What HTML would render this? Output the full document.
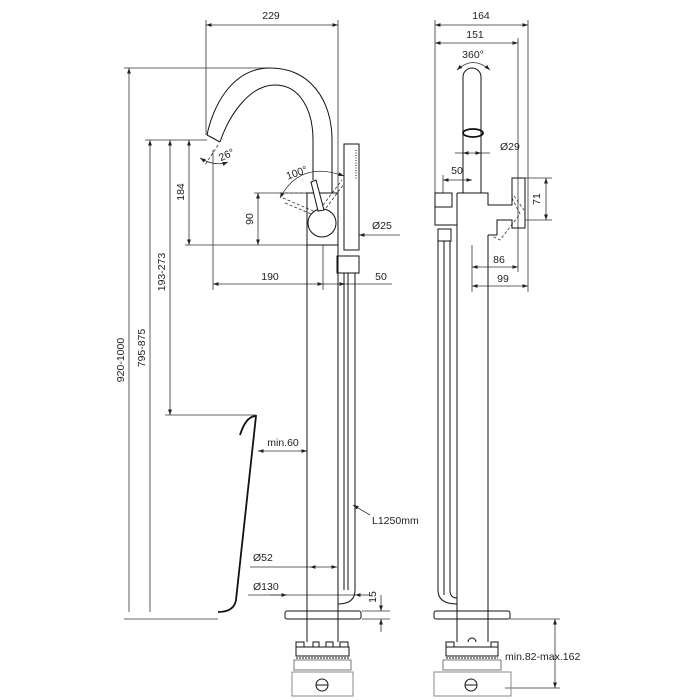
<!DOCTYPE html>
<html><head><style>
html,body{margin:0;padding:0;background:#fff;}
svg{display:block;}
text{font-family:"Liberation Sans",sans-serif;font-size:10.5px;fill:#222;}
</style></head><body>
<svg width="700" height="700" viewBox="0 0 700 700" xmlns="http://www.w3.org/2000/svg">
<defs>
<marker id="a" viewBox="0 0 10 10" refX="10" refY="5" markerWidth="7" markerHeight="7" orient="auto-start-reverse"><path d="M0,1.5 L10,5 L0,8.5z" fill="#222"/></marker>
</defs>
<rect width="700" height="700" fill="#fff"/>
<g stroke="#333" stroke-width="0.8" fill="none">
<line x1="206" y1="20" x2="206" y2="135"/>
<line x1="338" y1="20" x2="338" y2="193"/>
<line x1="124" y1="68" x2="270" y2="68"/>
<line x1="145" y1="140" x2="207" y2="140"/>
<line x1="185" y1="245" x2="308" y2="245"/>
<line x1="254" y1="193" x2="308" y2="193"/>
<line x1="213" y1="150" x2="213" y2="290"/>
<line x1="323" y1="245" x2="323" y2="290"/>
<line x1="165" y1="415" x2="256" y2="415"/>
<line x1="124" y1="619" x2="218" y2="619"/>
<line x1="362" y1="619" x2="390" y2="619"/>
<line x1="362" y1="611" x2="390" y2="611"/>
<line x1="206" y1="25" x2="338" y2="25" marker-start="url(#a)" marker-end="url(#a)"/>
<line x1="129" y1="612" x2="129" y2="68" marker-end="url(#a)"/>
<line x1="150" y1="612" x2="150" y2="140" marker-end="url(#a)"/>
<line x1="170" y1="140" x2="170" y2="415" marker-start="url(#a)" marker-end="url(#a)"/>
<line x1="189" y1="140" x2="189" y2="245" marker-start="url(#a)" marker-end="url(#a)"/>
<line x1="258" y1="193" x2="258" y2="245" marker-start="url(#a)" marker-end="url(#a)"/>
<line x1="213" y1="284" x2="323" y2="284" marker-start="url(#a)" marker-end="url(#a)"/>
<line x1="323" y1="284" x2="345" y2="284" marker-end="url(#a)"/>
<line x1="345" y1="284" x2="392" y2="284"/>
<line x1="400" y1="235" x2="359" y2="235" marker-end="url(#a)"/>
<line x1="258" y1="451" x2="307" y2="451" marker-start="url(#a)" marker-end="url(#a)"/>
<line x1="370" y1="515" x2="353" y2="505" marker-end="url(#a)"/>
<line x1="250" y1="567" x2="310" y2="567"/>
<line x1="310" y1="567" x2="337" y2="567" marker-start="url(#a)" marker-end="url(#a)"/>
<line x1="248" y1="595" x2="355" y2="595"/>
<line x1="270" y1="595" x2="287" y2="595" marker-end="url(#a)"/>
<line x1="370" y1="595" x2="355" y2="595" marker-end="url(#a)"/>
<line x1="381" y1="595" x2="381" y2="611" marker-end="url(#a)"/>
<line x1="381" y1="632" x2="381" y2="619" marker-end="url(#a)"/>
<path d="M200,158 Q215,167 228,162" marker-start="url(#a)" marker-end="url(#a)"/>
<line x1="218" y1="145" x2="205" y2="165" stroke-dasharray="3,2"/>
<path d="M280,198 Q300,160 344,176" marker-start="url(#a)" marker-end="url(#a)"/>
<line x1="280" y1="193" x2="308" y2="193" stroke-dasharray="3,2"/>
<path d="M283,198 L318,213 M285,203 L316,216" stroke-dasharray="3,2"/>
<path d="M323,205 L342,180 M326,208 L344,184" stroke-dasharray="3,2"/>
<line x1="435" y1="20" x2="435" y2="193"/>
<line x1="528" y1="20" x2="528" y2="292"/>
<line x1="518" y1="38" x2="518" y2="272"/>
<line x1="435" y1="25" x2="528" y2="25" marker-start="url(#a)" marker-end="url(#a)"/>
<line x1="435" y1="43" x2="518" y2="43" marker-start="url(#a)" marker-end="url(#a)"/>
<path d="M457,70 Q473,55 490,70" marker-start="url(#a)" marker-end="url(#a)"/>
<line x1="455" y1="153" x2="463" y2="153"/>
<line x1="463" y1="153" x2="481" y2="153" marker-start="url(#a)" marker-end="url(#a)"/>
<line x1="481" y1="153" x2="490" y2="153"/>
<line x1="443" y1="175" x2="443" y2="193"/>
<line x1="443" y1="180" x2="472" y2="180" marker-start="url(#a)" marker-end="url(#a)"/>
<line x1="525" y1="178" x2="552" y2="178"/>
<line x1="525" y1="220" x2="552" y2="220"/>
<line x1="546" y1="178" x2="546" y2="220" marker-start="url(#a)" marker-end="url(#a)"/>
<line x1="472" y1="245" x2="472" y2="292"/>
<line x1="472" y1="267" x2="518" y2="267" marker-start="url(#a)" marker-end="url(#a)"/>
<line x1="472" y1="286" x2="528" y2="286" marker-start="url(#a)" marker-end="url(#a)"/>
<line x1="510" y1="619" x2="560" y2="619"/>
<line x1="505" y1="688" x2="560" y2="688"/>
<line x1="555" y1="619" x2="555" y2="688" marker-start="url(#a)" marker-end="url(#a)"/>
<path d="M512,198 L520,214 L500,240 L492,236 M514,196 L524,210" stroke-dasharray="3,2"/>
</g>
<g stroke="#111" stroke-width="1" fill="none">
<path d="M207,135 C212,110 230,68 270,68 C310,68 332,100 332,140 L332,193"/>
<path d="M220,142 C228,118 248,85 275,85 C300,85 313,110 313,140 L313,180"/>
<line x1="207" y1="135" x2="220" y2="142"/>
<rect x="307" y="193" width="31" height="52"/>
<circle cx="322" cy="223" r="14" fill="#fff"/>
<path d="M311,182 L316,180 L324,210 L318,211 Z" fill="#fff"/>
<line x1="307" y1="245" x2="307" y2="642"/>
<line x1="338" y1="245" x2="338" y2="642"/>
<rect x="344" y="144" width="15" height="106"/>
<line x1="356" y1="150" x2="356" y2="180" stroke-dasharray="1,1.5"/>
<rect x="337" y="256" width="22" height="17"/>
<path d="M344,273 L344,590 M355,273 L355,590 Q355,604 338,604 M348,273 L348,590"/>
<rect x="285" y="611" width="76" height="8" rx="2"/>
<path d="M240,435 Q246,416 256,416 L236,600 Q234,612 218,612" stroke-width="1.8"/>
<path d="M296,647 L296,642 L304,642 L304,647 M313,647 L313,642 L319,642 L319,647 M326,647 L326,642 L333,642 L333,647 M340,647 L340,642 L348,642 L348,647"/>
<rect x="296" y="647" width="53" height="9"/>
<line x1="296" y1="658" x2="349" y2="658" stroke-dasharray="2,1"/>
<rect x="294" y="660" width="57" height="10" stroke="#777"/>
<rect x="292" y="672" width="61" height="24" stroke="#888"/>
<circle cx="322" cy="685" r="6"/>
<line x1="316" y1="685" x2="328" y2="685"/>
<path d="M463,193 L463,77 A9,9 0 0 1 481,77 L481,193"/>
<ellipse cx="473" cy="133" rx="10" ry="4" stroke-width="1.8"/>
<rect x="435" y="193" width="17" height="14"/>
<path d="M457,193 L488,193 L488,205 L512,205 L512,178 L525,178 L525,228 L512,228 L512,220 L497,220 L497,235 L488,235"/>
<line x1="457" y1="193" x2="457" y2="642"/>
<line x1="488" y1="235" x2="488" y2="642"/>
<path d="M435,207 L435,225 L457,225"/>
<rect x="438" y="229" width="13" height="12"/>
<path d="M438,241 L438,590 Q438,604 457,604 M450,241 L450,590 Q450,598 457,598 M444,241 L444,595"/>
<rect x="434" y="611" width="76" height="8" rx="2"/>
<path d="M446,647 L446,642 L454,642 L454,647 M491,647 L491,642 L498,642 L498,647 M468,642 A4,4 0 0 1 476,642"/>
<rect x="446" y="647" width="52" height="9"/>
<line x1="446" y1="658" x2="498" y2="658" stroke-dasharray="2,1"/>
<rect x="443" y="660" width="58" height="10" stroke="#777"/>
<rect x="434" y="672" width="77" height="24" stroke="#888"/>
<circle cx="471" cy="685" r="6"/>
<line x1="465" y1="685" x2="477" y2="685"/>
</g>
<text x="271" y="19" text-anchor="middle">229</text>
<text x="481" y="19" text-anchor="middle">164</text>
<text x="475" y="38" text-anchor="middle">151</text>
<text x="473" y="58" text-anchor="middle">360°</text>
<text x="500" y="150">Ø29</text>
<text x="457" y="174" text-anchor="middle">50</text>
<text transform="translate(540,199) rotate(-90)" text-anchor="middle">71</text>
<text x="499" y="263" text-anchor="middle">86</text>
<text x="503" y="282" text-anchor="middle">99</text>
<text transform="translate(228,158) rotate(-25)" text-anchor="middle">26°</text>
<text transform="translate(298,176) rotate(-20)" text-anchor="middle">100°</text>
<text transform="translate(184,192) rotate(-90)" text-anchor="middle">184</text>
<text transform="translate(253,219) rotate(-90)" text-anchor="middle">90</text>
<text x="372" y="229">Ø25</text>
<text x="270" y="280" text-anchor="middle">190</text>
<text x="381" y="280" text-anchor="middle">50</text>
<text transform="translate(124,360) rotate(-90)" text-anchor="middle">920-1000</text>
<text transform="translate(145,348) rotate(-90)" text-anchor="middle">795-875</text>
<text transform="translate(165,272) rotate(-90)" text-anchor="middle">193-273</text>
<text x="283" y="446" text-anchor="middle">min.60</text>
<text x="372" y="524">L1250mm</text>
<text x="253" y="561">Ø52</text>
<text x="253" y="590">Ø130</text>
<text transform="translate(376,597) rotate(-90)" text-anchor="middle">15</text>
<text x="505" y="660">min.82-max.162</text>
</svg>
</body></html>
